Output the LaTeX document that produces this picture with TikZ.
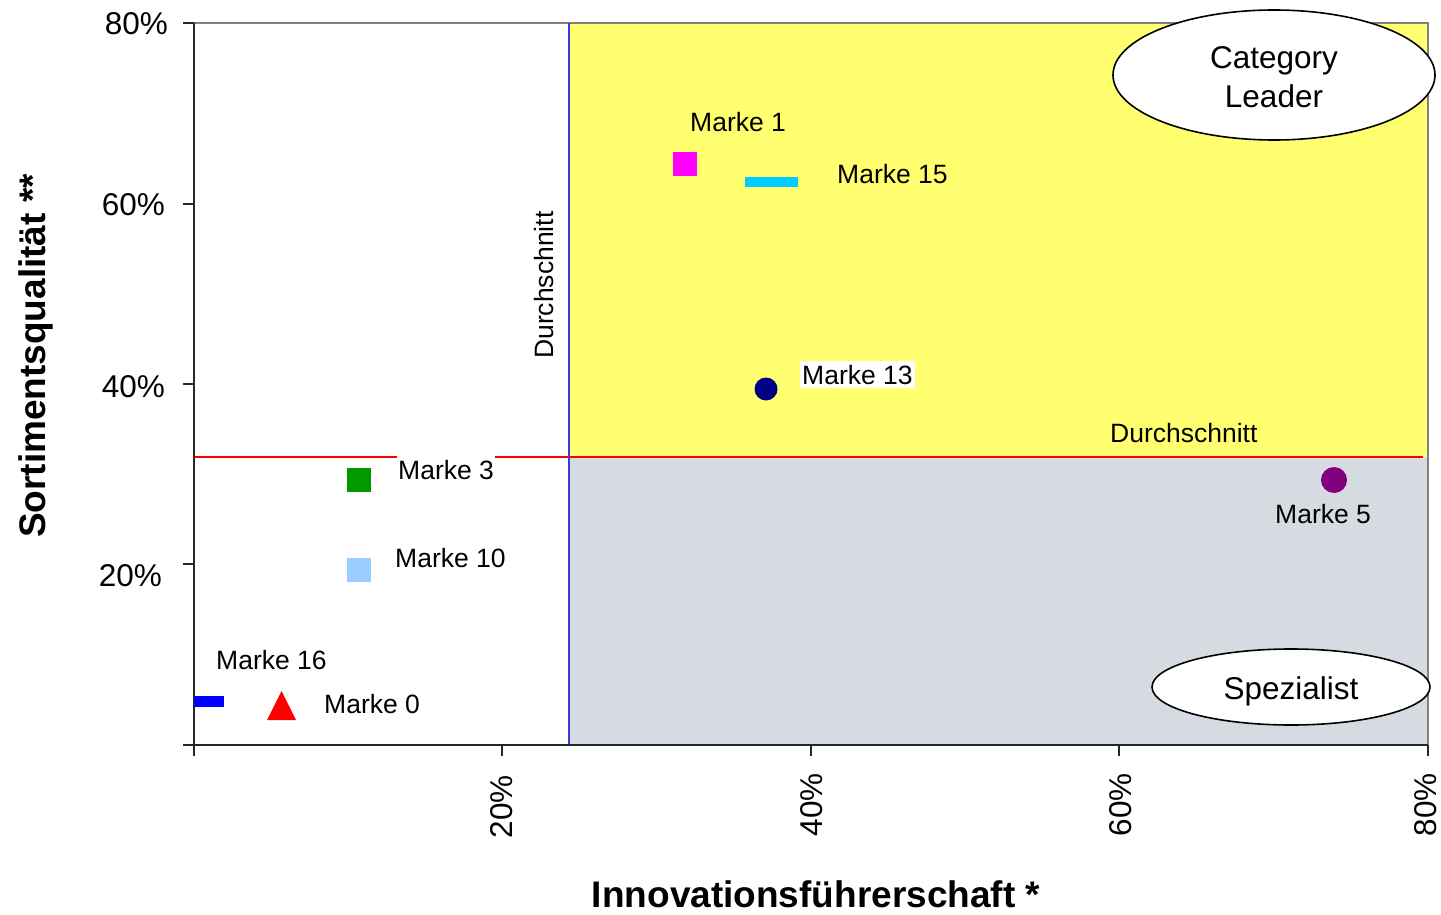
\documentclass[tikz,border=0pt]{standalone}
\usepackage{fontspec}
\setmainfont{Liberation Sans}
\usetikzlibrary{shapes.geometric}
\definecolor{zoneyellow}{RGB}{255,255,112}
\definecolor{zonegray}{RGB}{214,219,226}
\definecolor{avgblue}{RGB}{60,60,220}
\definecolor{mkmagenta}{RGB}{255,0,255}
\definecolor{mkcyan}{RGB}{0,204,255}
\definecolor{mknavy}{RGB}{0,0,128}
\definecolor{mkpurple}{RGB}{128,0,128}
\definecolor{mkgreen}{RGB}{0,153,0}
\definecolor{mklightblue}{RGB}{153,204,255}
\definecolor{mkblue}{RGB}{0,0,255}
\definecolor{mkred}{RGB}{255,0,0}
\definecolor{axiscol}{RGB}{40,40,40}
\definecolor{framecol}{RGB}{128,128,128}
\begin{document}
\begin{tikzpicture}[x=1pt,y=-1pt,
  lbl/.style={font=\fontsize{26.5}{30}\selectfont, inner sep=0pt, anchor=base west},
  ticklbl/.style={font=\fontsize{31.5}{36}\selectfont, inner sep=0pt},
  axtitle/.style={font=\fontsize{37}{42}\selectfont\bfseries, inner sep=0pt, anchor=base},
  zone/.style={draw=black, line width=1.6pt, fill=white, ellipse, inner sep=0pt},
  zonetext/.style={inner sep=0pt, align=center, font=\fontsize{31.5}{39}\selectfont},
  sq/.style={rectangle, inner sep=0pt, minimum size=24pt, draw=none},
  dot/.style={circle, inner sep=0pt, draw=none},
  bar/.style={rectangle, inner sep=0pt, draw=none},
  axisline/.style={draw=axiscol, line width=2pt},
  tickline/.style={draw=axiscol, line width=1.5pt}]
\useasboundingbox (0,0) rectangle (1441,915);
% zones
\fill[zoneyellow] (569,23) rectangle (1428,457);
\fill[zonegray] (569,457) rectangle (1428,745);
% frame
\draw[framecol, line width=1.5pt] (194,23) -- (1428,23) -- (1428,745);
% average lines
\draw[mkred, line width=2pt] (194,457) -- (1423,457);
\draw[avgblue, line width=2pt] (569,23) -- (569,745);
% axes
\draw[axisline] (194,23) -- (194,745) -- (1428,745);
\foreach \yy in {23,204,384,564,745} \draw[tickline] (183,\yy) -- (194,\yy);
\foreach \xx in {194,502,811,1119,1428} \draw[tickline] (\xx,745) -- (\xx,756);
% tick labels
\node[ticklbl, anchor=east] (y80) at (168,24) {80\%};
\node[ticklbl, anchor=east] (y60) at (165,205) {60\%};
\node[ticklbl, anchor=east] (y40) at (165,387) {40\%};
\node[ticklbl, anchor=east] (y20) at (162,576) {20\%};
\node[ticklbl, anchor=east, rotate=90] (x20) at (502,775) {20\%};
\node[ticklbl, anchor=east, rotate=90] (x40) at (812,773) {40\%};
\node[ticklbl, anchor=east, rotate=90] (x60) at (1121,773) {60\%};
\node[ticklbl, anchor=east, rotate=90] (x80) at (1426,773) {80\%};
% axis titles
\node[axtitle] (xt) at (816,907) {Innovationsführerschaft *};
\node[axtitle, rotate=90] (yt) at (45,356) {Sortimentsqualität **};
% markers
\node[sq, fill=mkmagenta] (m1) at (685,164) {};
\node[bar, fill=mkcyan, minimum width=53pt, minimum height=10pt] (m15) at (771.5,182) {};
\node[dot, fill=mknavy, minimum size=23pt] (m13) at (766,389) {};
\node[dot, fill=mkpurple, minimum size=26pt] (m5) at (1334,480) {};
\node[sq, fill=mkgreen] (m3) at (358.5,480) {};
\node[sq, fill=mklightblue] (m10) at (358.5,569.5) {};
\node[bar, fill=mkblue, minimum width=30pt, minimum height=11pt] (m16) at (209,701.5) {};
\coordinate (m0) at (281.5,710);
\fill[mkred] (267,720) -- (281.5,691) -- (296,720) -- cycle;
% labels
\node[lbl] (l1) at (690,132) {Marke 1};
\node[lbl] (l15) at (837,183) {Marke 15};
\node[lbl, fill=white, inner xsep=2pt, inner ysep=4pt] (l13) at (800,384) {Marke 13};
\node[lbl] (dh) at (1110,442) {Durchschnitt};
\node[lbl] (l5) at (1275,523) {Marke 5};
\node[lbl, fill=white, inner xsep=1pt, inner ysep=5pt] (l3) at (397,479) {Marke 3};
\node[lbl] (l10) at (395,567) {Marke 10};
\node[lbl] (l16) at (216,669) {Marke 16};
\node[lbl] (l0) at (324,713) {Marke 0};
\node[lbl, rotate=90] (dv) at (553,359) {Durchschnitt};
% quadrant ellipses
\node[zone, minimum width=322pt, minimum height=130pt] (cl) at (1274,75) {};
\node[zonetext] (clt) at (1274,77) {Category\\Leader};
\node[zone, minimum width=278pt, minimum height=76pt] (sp) at (1291,687) {};
\node[zonetext, anchor=base] (spt) at (1291,699) {Spezialist};
\end{tikzpicture}
\end{document}
